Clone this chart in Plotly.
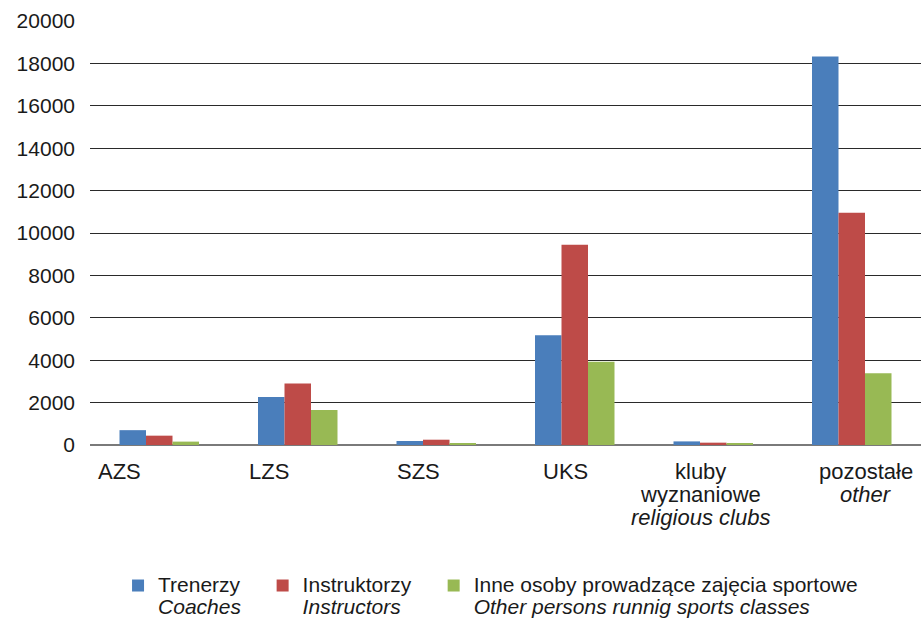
import plotly.graph_objects as go

categories = ["AZS", "LZS", "SZS", "UKS", "kluby wyznaniowe", "pozostałe"]
category_lines = [
    ["AZS"],
    ["LZS"],
    ["SZS"],
    ["UKS"],
    ["kluby", "wyznaniowe", "<i>religious clubs</i>"],
    ["pozostałe", "<i>other</i>"],
]
trenerzy = [700, 2260, 190, 5180, 170, 18330]
instruktorzy = [440, 2900, 250, 9450, 110, 10950]
inne = [160, 1650, 50, 3930, 90, 3380]

series_pl = ["Trenerzy", "Instruktorzy", "Inne osoby prowadzące zajęcia sportowe"]
series_en = ["Coaches", "Instructors", "Other persons runnig sports classes"]
colors = ["#4A7EBB", "#BE4B48", "#98B954"]
y_ticks = list(range(0, 20001, 2000))

# label layout (pixel offsets of category labels, as in the source)
label_xshift = [-40, -29, -18, -9, -13, 14]
legend_pad = ["\u00a0\u00a0\u00a0", "\u00a0\u00a0\u00a0", ""]

FONT = "Liberation Sans, Arial, sans-serif"
TXT = "#1a1a1a"

def legend_label(pl, en, pad):
    return ("<span style='font-size:21px'>" + pl + pad + "</span><br>"
            "<span style='font-size:21px'><i>" + en + "</i></span>")

fig = go.Figure()
for pl, en, pad, vals, col in zip(series_pl, series_en, legend_pad,
                                  [trenerzy, instruktorzy, inne], colors):
    fig.add_trace(go.Bar(x=categories, y=vals, name=legend_label(pl, en, pad),
                         marker=dict(color=col, line=dict(width=0))))

annotations = []
for cat, lines, dx in zip(categories, category_lines, label_xshift):
    for i, ln in enumerate(lines):
        annotations.append(dict(
            x=cat, xref="x", y=0, yref="paper", yanchor="middle",
            yshift=-26 - 23 * i, xshift=dx, text=ln, showarrow=False,
            font=dict(family=FONT, size=22, color=TXT)))

fig.update_layout(
    width=921, height=618,
    margin=dict(l=90, r=0, t=21, b=173, autoexpand=False),
    paper_bgcolor="white", plot_bgcolor="white",
    barmode="group", bargap=0.426, bargroupgap=0,
    font=dict(family=FONT, size=21, color=TXT),
    xaxis=dict(showticklabels=False, showgrid=False, zeroline=False,
               showline=False, ticks="", automargin=False),
    yaxis=dict(range=[0, 20000], tickvals=y_ticks, tickformat="d",
               showgrid=True, gridcolor="#2a2a2a", gridwidth=1,
               zeroline=True, zerolinecolor="#7a7a7a", zerolinewidth=2,
               showline=False, ticks="", ticklabelstandoff=14,
               automargin=False,
               tickfont=dict(family=FONT, size=21, color=TXT)),
    legend=dict(orientation="h", x=0.482, xanchor="center", y=-0.29,
                yanchor="top", valign="top",
                font=dict(family=FONT, size=17, color=TXT),
                itemclick=False, traceorder="normal"),
    annotations=annotations,
    showlegend=True,
)

fig.write_html("out.html",
               config={"displayModeBar": False},
               post_script="document.body.style.margin='0';document.body.style.padding='0';")
